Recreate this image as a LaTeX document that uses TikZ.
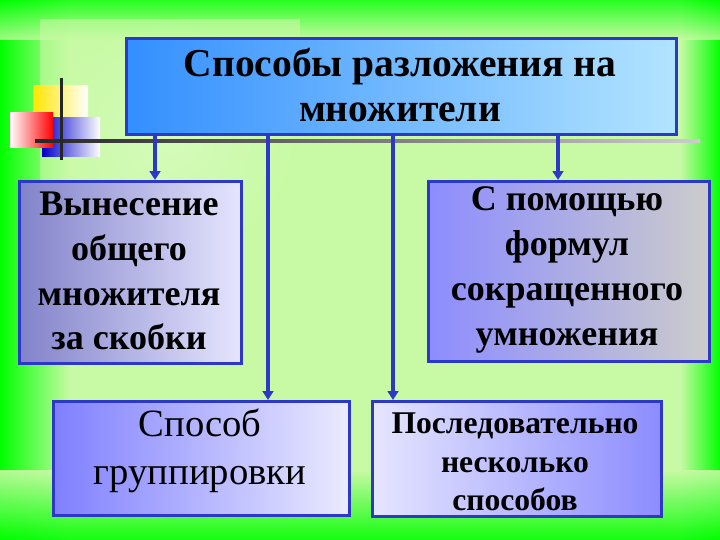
\documentclass[tikz,border=0pt]{standalone}
\usepackage{fontspec}
\setmainfont{Liberation Serif}
\usetikzlibrary{arrows.meta}
\definecolor{bord}{RGB}{45,55,200}
\definecolor{bgreen}{RGB}{0,255,0}
\definecolor{pale}{RGB}{200,250,165}
\tikzset{
 box/.style={draw=bord,line width=1.6pt,align=center,inner sep=0pt},
 conn/.style={draw=bord,line width=1.8pt,-{Triangle[length=5pt,width=6pt]}},
 txt/.style={align=center}
}
\begin{document}
\begin{tikzpicture}[x=0.02cm,y=-0.02cm]
\useasboundingbox (0,0) rectangle (720,540);
\fill[pale] (0,0) rectangle (720,540);
\shade[left color=bgreen,right color=pale] (0,0) rectangle (70,540);
\shade[right color=bgreen,left color=pale] (680,0) rectangle (720,540);
\shade[top color=bgreen,bottom color=pale,opacity=0.8] (0,0) rectangle (720,40);
\shade[bottom color=bgreen,top color=pale,opacity=0.9] (0,470) rectangle (720,540);
\shade[inner color=white!40!pale,outer color=pale,opacity=0.6] (40,20) rectangle (300,260);
% decoration
\shade[left color=yellow!80!orange,right color=white] (33,86) rectangle (88,118);
\shade[left color=blue!80!black,right color=white] (42,118) rectangle (100,157);
\shade[right color=red,left color=white] (10,113) rectangle (53,148);
\shade[left color=black!85,right color=black!20] (35,140) rectangle (700,143);
\fill[black!85] (60,78) rectangle (63,160);
% boxes
\node[box,minimum width=550*0.02cm,minimum height=96*0.02cm,anchor=north west,
  shade,left color=blue!55!cyan!80!white,right color=blue!35!cyan!30!white]
  (t) at (125,37) {};
\node[txt,font=\bfseries\fontsize{22.5}{26}\selectfont] at (400,85) {Способы разложения на\\ множители};
\node[box,minimum width=222*0.02cm,minimum height=182*0.02cm,anchor=north west,
  shade,left color=blue!40!gray!70!white,right color=blue!10!white] (a) at (18,180) {};
\node[txt,font=\bfseries\fontsize{20.5}{25.5}\selectfont] at (129,271) {Вынесение\\общего\\множителя\\за скобки};
\node[box,minimum width=281*0.02cm,minimum height=180*0.02cm,anchor=north west,
  shade,left color=blue!45!white,right color=gray!40!white] (b) at (427,180) {};
\node[txt,font=\bfseries\fontsize{20.5}{25.5}\selectfont] at (567,270) {С помощью\\формул\\сокращенного\\умножения};
\node[box,minimum width=296*0.02cm,minimum height=114*0.02cm,anchor=north west,
  shade,left color=blue!50!white,right color=blue!8!white] (c) at (52,400) {};
\node[txt,font=\fontsize{22}{27}\selectfont] at (200,451) {Способ\\группировки};
\node[box,minimum width=289*0.02cm,minimum height=115*0.02cm,anchor=north west,
  shade,left color=blue!10!white,right color=blue!45!white] (d) at (371,400) {};
\node[txt,font=\bfseries\fontsize{18}{22}\selectfont] at (515,462) {Последовательно\\несколько\\способов};
% connectors
\coordinate (s1) at (155,133); \coordinate (e1) at (155,180);
\coordinate (s2) at (268,133); \coordinate (e2) at (268,400);
\coordinate (s3) at (393,133); \coordinate (e3) at (393,400);
\coordinate (s4) at (558,133); \coordinate (e4) at (558,180);
\draw[conn] (s1) -- (e1);
\draw[conn] (s2) -- (e2);
\draw[conn] (s3) -- (e3);
\draw[conn] (s4) -- (e4);
\end{tikzpicture}
\end{document}
